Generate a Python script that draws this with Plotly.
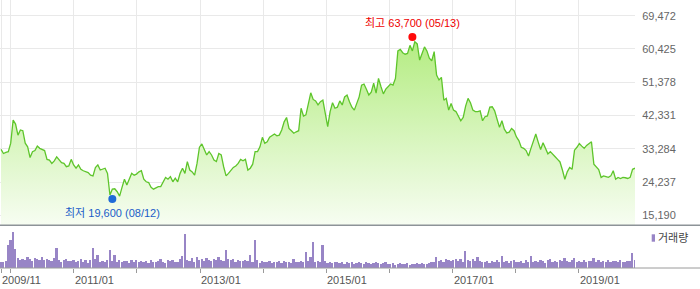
import pandas as pd
import plotly.graph_objects as go

# ---------------- data ----------------
START_DATE = "2009-11-06"
FREQ = "14D"

PRICE = [
    33100, 32000, 32300, 32500, 34800, 41100, 40000, 37000, 38400, 38200,
    34800, 33800, 30900, 32500, 32800, 34000, 33400, 33200, 32800, 30400,
    30200, 29300, 30000, 31100, 30200, 29500, 29300, 28400, 28600, 30400,
    28900, 28000, 28900, 27700, 27300, 27000, 26800, 26100, 25900, 28200,
    28900, 27500, 27700, 28000, 26600, 20700, 22300, 22400, 21600, 20400,
    22800, 25000, 23400, 25300, 26600, 26100, 26400, 27000, 27300, 25000,
    24300, 24100, 22800, 22300, 22600, 23000, 23000, 24300, 25500, 25000,
    25700, 24300, 25300, 24300, 26600, 28000, 26600, 29800, 27500, 27000,
    26100, 29300, 33700, 34600, 33100, 31600, 32500, 31600, 30200, 29800,
    32000, 31600, 28400, 25900, 26600, 27500, 28200, 28600, 29300, 30400,
    30000, 30400, 27500, 28000, 29100, 32500, 32500, 33800, 36400, 34800,
    35200, 36400, 36800, 37300, 36800, 37000, 38400, 40600, 41800, 38800,
    38200, 37500, 37900, 38200, 44300, 42200, 42500, 45500, 48500, 46700,
    46300, 45200, 46100, 46500, 42500, 39300, 43400, 45800, 44300, 44600,
    46300, 45200, 47400, 47900, 46100, 44600, 43800, 45500, 47400, 50600,
    50900, 49500, 47900, 48700, 51100, 48400, 52400, 50200, 48200, 49500,
    50200, 50900, 50600, 52400, 59900, 60300, 59400, 59000, 59200, 61400,
    59900, 62400, 61800, 57400, 59200, 61000, 59900, 57900, 57200, 59700,
    53300, 52000, 52700, 46500, 47000, 43800, 45600, 43800, 43400, 42200,
    40900, 41800, 44900, 47000, 45800, 43800, 43400, 43400, 43600, 40900,
    42000, 42200, 44600, 44700, 43600, 41300, 39100, 40900, 38600, 37600,
    37800, 38800, 38200, 36500, 35500, 33700, 33400, 32800, 31300, 33400,
    35400, 37300, 35100, 33100, 34900, 33400, 31900, 32500, 31900, 31100,
    30400, 29700, 27500, 25000, 27000, 28200, 27700, 32900, 33700, 34700,
    34000, 33400, 34200, 34800, 35200, 29100, 28400, 27600, 25500, 25900,
    25700, 25500, 25900, 27300, 25000, 25500, 25200, 25500, 25400, 25200,
    25500, 27700, 28000,
]

# trading volume (thousand shares)
VOLUME = [
    700, 650, 800, 2400, 2900, 3670, 2000, 1100, 900, 1000, 850, 1200, 950, 800, 1100, 1000, 900, 1200, 850, 1000,
    900, 800, 1100, 2070, 850, 700, 900, 1000, 750, 800, 900, 650, 800, 950, 700, 850, 600, 900, 2070, 1000,
    1400, 700, 800, 650, 900, 1830, 800, 1400, 700, 900, 650, 800, 750, 600, 900, 700, 850, 650, 800, 700,
    750, 600, 900, 700, 650, 800, 1000, 700, 600, 850, 750, 900, 650, 700, 1000, 1270, 3430, 900, 800, 1100,
    700, 1200, 900, 1000, 800, 1100, 900, 750, 1000, 850, 1200, 900, 800, 1830, 1000, 850, 950, 700, 900, 800,
    750, 900, 800, 1400, 700, 2830, 900, 600, 750, 700, 650, 800, 600, 700, 650, 750, 600, 800, 700, 650,
    600, 1000, 700, 650, 800, 700, 1670, 750, 1170, 2670, 700, 800, 650, 2400, 750, 600, 700, 550, 650, 700,
    600, 650, 500, 700, 550, 650, 500, 600, 700, 550, 500, 650, 600, 500, 550, 700, 600, 500, 550, 650,
    500, 450, 550, 400, 500, 600, 450, 500, 550, 400, 500, 450, 600, 500, 550, 450, 500, 600, 650, 700,
    1170, 800, 900, 700, 1000, 850, 750, 900, 1000, 800, 950, 700, 1730, 900, 800, 1000, 750, 1170, 800, 700,
    650, 800, 600, 750, 700, 850, 650, 1230, 700, 800, 600, 750, 900, 650, 700, 800, 600, 850, 700, 1230,
    700, 800, 650, 900, 750, 600, 850, 1000, 700, 800, 650, 900, 750, 1100, 800, 700, 850, 1070, 700, 800,
    650, 900, 700, 750, 800, 1070, 700, 850, 650, 800, 700, 900, 650, 750, 800, 700, 850, 650, 700, 800,
    750, 1570, 900,
]

HIGH_DATE, HIGH_VALUE, HIGH_LABEL = "2016-05-13", 63700, "최고 63,700 (05/13)"
LOW_DATE, LOW_VALUE, LOW_LABEL = "2011-08-12", 19600, "최저 19,600 (08/12)"

Y_TICKS = [15190, 24237, 33284, 42331, 51378, 60425, 69472]
X_TICKS = ["2009-11-06", "2010-01-01", "2011-01-01", "2012-01-01", "2013-01-01",
           "2014-01-01", "2015-01-01", "2016-01-01", "2017-01-01", "2018-01-01",
           "2019-01-01"]
X_TICK_LABELS = ["2009/11", "", "2011/01", "", "2013/01", "", "2015/01", "",
                 "2017/01", "", "2019/01"]
VOLUME_LEGEND = "거래량"

# ---------------- figure ----------------
dates = pd.date_range(START_DATE, periods=len(PRICE), freq=FREQ)
vdates = dates[:len(VOLUME)]

FONT = "Liberation Sans, Noto Sans CJK KR, sans-serif"
LINE_GREEN = "#5ec52b"
GRID = "#e9e9e9"
PURPLE = "#9885c6"

Y_RANGE = [12471, 73741]
x_range = [dates[0] - pd.Timedelta(days=6), dates[-1]]

PLOT_W, PLOT_H = 635, 268
price_bottom = (PLOT_H - 225.3) / PLOT_H
vol_top = (PLOT_H - 226.5) / PLOT_H

fig = go.Figure()

fig.add_trace(go.Scatter(
    x=dates, y=PRICE, mode="lines",
    line=dict(color=LINE_GREEN, width=1.3),
    fill="tozeroy",
    fillgradient=dict(type="vertical",
                      colorscale=[[0, "#f7fdf2"], [1, "#b3ec80"]],
                      start=Y_RANGE[0], stop=HIGH_VALUE),
    xaxis="x", yaxis="y", hoverinfo="skip",
))

fig.add_trace(go.Scatter(
    x=[HIGH_DATE], y=[HIGH_VALUE], mode="markers",
    marker=dict(color="#ff0a0a", size=8), xaxis="x", yaxis="y", cliponaxis=False,
))
fig.add_trace(go.Scatter(
    x=[LOW_DATE], y=[LOW_VALUE], mode="markers",
    marker=dict(color="#1f6ad8", size=8), xaxis="x", yaxis="y", cliponaxis=False,
))

fig.add_trace(go.Bar(
    x=vdates, y=VOLUME, marker=dict(color=PURPLE, line=dict(width=0)),
    width=14 * 86400000 * 0.72, xaxis="x2", yaxis="y2",
))

annotations = [
    dict(x=HIGH_DATE, y=HIGH_VALUE, xref="x", yref="y", text=HIGH_LABEL,
         showarrow=False, yshift=14, font=dict(color="#ee0000", size=11, family=FONT)),
    dict(x=LOW_DATE, y=LOW_VALUE, xref="x", yref="y", text=LOW_LABEL,
         showarrow=False, yshift=-14, font=dict(color="#1a5cc8", size=11, family=FONT)),
    dict(x=(PLOT_W + 21) / PLOT_W, y=(PLOT_H - 238) / PLOT_H, xref="paper", yref="paper",
         text=VOLUME_LEGEND, showarrow=False, xanchor="left", yanchor="middle",
         font=dict(color="#444", size=11, family=FONT)),
]
for d, lab in zip(X_TICKS, X_TICK_LABELS):
    if lab:
        annotations.append(dict(
            x=d, y=0, xref="x2", yref="paper", text=lab, showarrow=False,
            xanchor="left", yanchor="middle", yshift=-12, xshift=-1,
            font=dict(color="#555", size=11, family=FONT)))

shapes = [
    dict(type="line", xref="paper", yref="paper", x0=0, x1=700 / PLOT_W,
         y0=price_bottom, y1=price_bottom, line=dict(color="#8d9398", width=1.6)),
    dict(type="line", xref="paper", yref="paper", x0=0, x1=700 / PLOT_W,
         y0=0, y1=0, line=dict(color="#9a9a9a", width=1)),
    dict(type="rect", xref="paper", yref="paper",
         x0=651.7 / PLOT_W, x1=655 / PLOT_W,
         y0=(PLOT_H - 241.7) / PLOT_H, y1=(PLOT_H - 234.3) / PLOT_H,
         line=dict(width=0), fillcolor=PURPLE),
]

fig.update_layout(
    width=700, height=289,
    margin=dict(l=0, r=700 - PLOT_W, t=0, b=289 - PLOT_H),
    paper_bgcolor="white", plot_bgcolor="white",
    showlegend=False,
    font=dict(family=FONT, size=11, color="#666"),
    xaxis=dict(domain=[0, 1], anchor="y", range=x_range, type="date",
               tickvals=X_TICKS, showticklabels=False, ticks="",
               showgrid=True, gridcolor=GRID, gridwidth=1,
               showline=False, zeroline=False),
    yaxis=dict(domain=[price_bottom, 1], anchor="x", side="right", range=Y_RANGE,
               tickvals=Y_TICKS, tickformat=",d",
               showgrid=True, gridcolor=GRID, gridwidth=1,
               ticks="outside", ticklen=4, tickcolor="rgba(0,0,0,0)",
               tickfont=dict(size=11, color="#666", family=FONT),
               showline=False, zeroline=False),
    xaxis2=dict(domain=[0, 1], anchor="y2", range=x_range, type="date",
                matches="x", tickvals=X_TICKS, showticklabels=False,
                ticks="outside", ticklen=4, tickcolor="#9a9a9a", tickwidth=1,
                showgrid=False, showline=False, zeroline=False),
    yaxis2=dict(domain=[0, vol_top], anchor="x2", range=[0, max(VOLUME) * 1.14],
                visible=False, showgrid=False, zeroline=False),
    annotations=annotations,
    shapes=shapes,
    bargap=0,
)

fig.write_html("out.html")
